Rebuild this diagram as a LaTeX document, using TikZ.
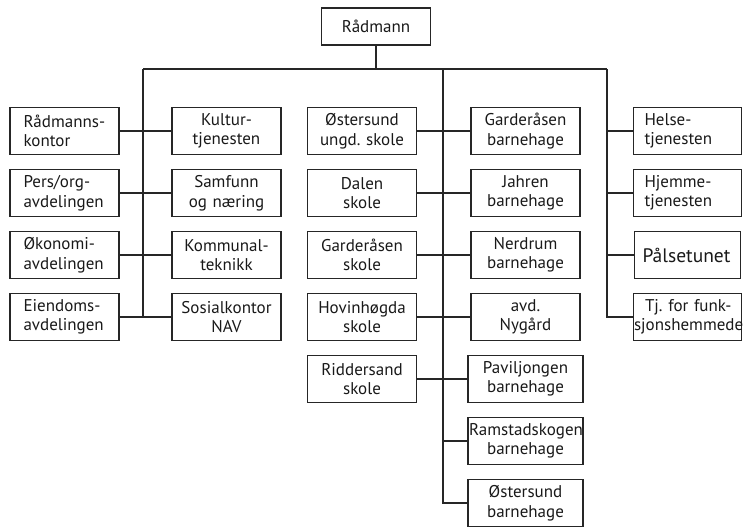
\documentclass[tikz,border=0pt]{standalone}
\usepackage{fontspec}
\setmainfont{PT Sans}
\frenchspacing
\usetikzlibrary{positioning}

\begin{document}
\begin{tikzpicture}[node distance=62pt,on grid,
  every node/.style={font=\fontsize{17}{19.5}\selectfont,text=black!90},
  unit/.style={draw=black!85,line width=1.1pt,minimum height=47pt,text width=103pt,inner xsep=3pt,align=center},
  unitl/.style={unit,text width=86pt,inner xsep=11.5pt,align=left},
  link/.style={draw=black!85,line width=1.1pt}]
\useasboundingbox (0,0) rectangle (743pt,-527pt);
\node[unit,minimum height=37pt] (rad) at (376pt,-26.5pt) {Rådmann};
% stab og sektorer
\node[unitl] (l_1) at (64.5pt,-131pt) {\hspace*{2pt}Rådmanns-\\\hspace*{2pt}kontor};
\node[unitl] (l_2) [below=of l_1] {\hspace*{2pt}Pers/org-\\\hspace*{2pt}avdelingen};
\node[unitl] (l_3) [below=of l_2] {\hspace*{2pt}Økonomi-\\\hspace*{2pt}avdelingen};
\node[unitl] (l_4) [below=of l_3] {\hspace*{2pt}Eiendoms-\\\hspace*{2pt}avdelingen};
\node[unit] (k_1) [right=162pt of l_1] {Kultur-\\tjenesten};
\node[unit] (k_2) [below=of k_1] {Samfunn\\og næring};
\node[unit] (k_3) [below=of k_2] {Kommunal-\\teknikk};
\node[unit] (k_4) [below=of k_3] {Sosialkontor\\NAV};
% skoler og barnehager
\node[unit] (s_1) [right=135.5pt of k_1] {Østersund\\ungd. skole};
\node[unit] (s_2) [below=of s_1] {Dalen\\skole};
\node[unit] (s_3) [below=of s_2] {Garderåsen\\skole};
\node[unit] (s_4) [below=of s_3] {Hovinhøgda\\skole};
\node[unit] (s_5) [below=of s_4] {Riddersand\\skole};
\node[unit] (b_1) [right=163.5pt of s_1] {Garderåsen\\barnehage};
\node[unit] (b_2) [below=of b_1] {Jahren\\barnehage};
\node[unit] (b_3) [below=of b_2] {Nerdrum\\barnehage};
\node[unit] (b_4) [below=of b_3] {avd.\\Nygård};
\node[unit,text width=109pt] (b_5) [below=of b_4] {Paviljongen\\barnehage};
\node[unit,text width=113pt,inner xsep=1pt] (b_6) [below=of b_5] {Ramstadskogen\\barnehage};
\node[unit,text width=109pt] (b_7) [below=of b_6] {Østersund\\barnehage};
% helse og omsorg
\node[unitl,inner xsep=11pt] (h_1) [right=162pt of b_1] {Helse-\\tjenesten};
\node[unitl,inner xsep=11pt] (h_2) [below=of h_1] {Hjemme-\\tjenesten};
\node[unitl,inner xsep=8pt,text width=90pt,font=\fontsize{19.5}{21}\selectfont] (h_3) [below=of h_2] {Pålsetunet};
\node[unitl,text width=107pt,inner xsep=0.5pt] (h_4) [below=of h_3] {\hspace*{11pt}Tj. for funk-\\sjonshemmede};
\coordinate (bl) at (143pt,-69pt);
\coordinate (bm) at (443pt,-69pt);
\coordinate (br) at (607pt,-69pt);
\draw[link] (rad) -- (rad |- bl);
\draw[link] (bl) -- (br);
\draw[link] (bl) -- (bl |- l_4);
\draw[link] (bm) -- (bm |- b_7) -- (b_7);
\draw[link] (br) -- (br |- h_4) -- (h_4);
\path[link]
  (l_1) edge (k_1) (l_2) edge (k_2) (l_3) edge (k_3) (l_4) edge (k_4)
  (s_1) edge (b_1) (s_2) edge (b_2) (s_3) edge (b_3) (s_4) edge (b_4) (s_5) edge (b_5)
  (bm |- b_6) edge (b_6)
  (br |- h_1) edge (h_1) (br |- h_2) edge (h_2) (br |- h_3) edge (h_3)
  ;
\end{tikzpicture}
\end{document}
